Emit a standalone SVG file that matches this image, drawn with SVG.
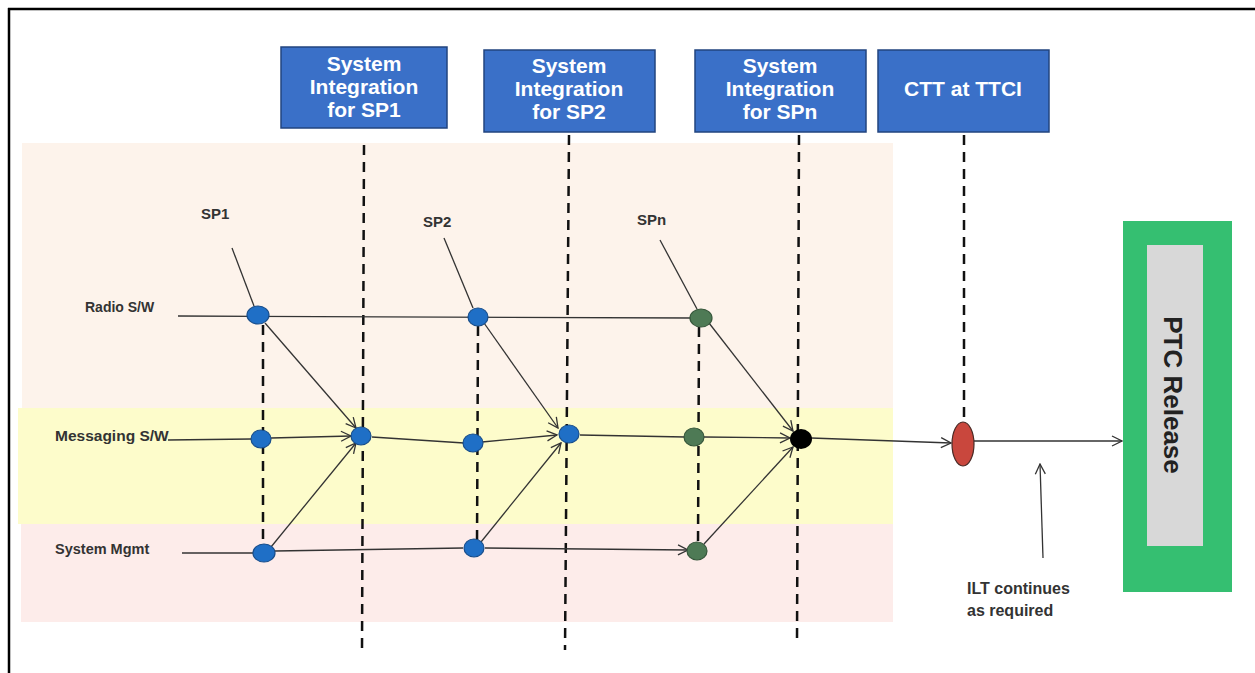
<svg xmlns="http://www.w3.org/2000/svg" width="1255" height="673" viewBox="0 0 1255 673">
<defs>
<style>
.box{fill:#3A70C8;stroke:#22447F;stroke-width:1.5}
.bt{font-family:"Liberation Sans",Arial,sans-serif;font-weight:bold;font-size:21px;fill:#fff;text-anchor:middle}
.dash{stroke:#111;stroke-width:2.5;stroke-dasharray:10 7;fill:none}
.ln{stroke:#333;stroke-width:1.3;fill:none}
.ar{stroke:#333;stroke-width:1.3;fill:none;marker-end:url(#arr)}
.lbl{font-family:"Liberation Sans",Arial,sans-serif;font-weight:bold;fill:#333}
.blue{fill:#1F6FC6;stroke:#184E8C;stroke-width:1.2}
.green{fill:#4E7A55;stroke:#36573B;stroke-width:1.2}
</style>
<marker id="arr" viewBox="0 0 12 12" refX="11" refY="6" markerWidth="12" markerHeight="12" markerUnits="userSpaceOnUse" orient="auto">
<path d="M1,1 L11,6 L1,11" fill="none" stroke="#333" stroke-width="1.3"/>
</marker>
</defs>
<rect width="1255" height="673" fill="#fff"/>
<g id="frame">
<line x1="8" y1="9" x2="1255" y2="9" stroke="#000" stroke-width="2.5"/>
<line x1="9" y1="8" x2="9" y2="673" stroke="#000" stroke-width="2.5"/>
</g>
<g id="bands">
<rect x="22" y="143" width="871" height="265" fill="#FDF3EB"/>
<rect x="18" y="408" width="875" height="116" fill="#FDFCCB"/>
<rect x="21" y="524" width="872" height="98" fill="#FDECEA"/>
</g>
<g id="box-sp1"><rect class="box" x="281" y="47" width="166" height="81"/>
<text class="bt" x="364" y="71">System</text><text class="bt" x="364" y="94">Integration</text><text class="bt" x="364" y="117">for SP1</text></g>
<g id="box-sp2"><rect class="box" x="484" y="50" width="171" height="82"/>
<text class="bt" x="569" y="73">System</text><text class="bt" x="569" y="96">Integration</text><text class="bt" x="569" y="119">for SP2</text></g>
<g id="box-spn"><rect class="box" x="695" y="50" width="171" height="82"/>
<text class="bt" x="780" y="73">System</text><text class="bt" x="780" y="96">Integration</text><text class="bt" x="780" y="119">for SPn</text></g>
<g id="box-ctt"><rect class="box" x="878" y="50" width="171" height="82"/>
<text class="bt" x="963" y="96">CTT at TTCI</text></g>
<g id="lanes">
<text class="lbl" x="85" y="312" style="font-size:14px">Radio S/W</text>
<text class="lbl" x="55" y="441" style="font-size:15.5px">Messaging  S/W</text>
<text class="lbl" x="55" y="554" style="font-size:14.5px">System Mgmt</text>
<text class="lbl" x="201" y="219" style="font-size:15px">SP1</text>
<text class="lbl" x="423" y="227" style="font-size:15px">SP2</text>
<text class="lbl" x="637" y="225" style="font-size:15px">SPn</text>
</g>
<g id="connectors">
<line class="dash" x1="364" y1="145" x2="362" y2="650"/>
<line class="dash" x1="569" y1="135" x2="565" y2="650"/>
<line class="dash" x1="799" y1="135" x2="797" y2="642"/>
<line class="dash" x1="964" y1="135" x2="964" y2="418"/>
<line class="dash" x1="263" y1="325" x2="263" y2="546"/>
<line class="dash" x1="478" y1="326" x2="477" y2="545"/>
<line class="dash" x1="699" y1="327" x2="698" y2="545"/>
<line class="ln" x1="232" y1="248" x2="254" y2="306"/>
<line class="ln" x1="444" y1="238" x2="473" y2="308"/>
<line class="ln" x1="660" y1="240" x2="697" y2="309"/>
<line class="ln" x1="178" y1="316" x2="692" y2="318"/>
<line class="ln" x1="168" y1="440" x2="251" y2="439"/>
<line class="ar" x1="271" y1="438" x2="351" y2="436"/>
<line class="ln" x1="372" y1="437" x2="464" y2="443"/>
<line class="ar" x1="482" y1="442" x2="557" y2="435"/>
<line class="ln" x1="580" y1="435" x2="685" y2="437"/>
<line class="ar" x1="704" y1="437" x2="790" y2="438"/>
<line class="ar" x1="811" y1="438" x2="951" y2="443"/>
<line class="ar" x1="974" y1="441" x2="1122" y2="441"/>
<line class="ln" x1="182" y1="553" x2="253" y2="553"/>
<line class="ln" x1="275" y1="551" x2="463" y2="548"/>
<line class="ar" x1="485" y1="548" x2="688" y2="550"/>
<line class="ar" x1="265" y1="323" x2="356" y2="428"/>
<line class="ar" x1="271" y1="547" x2="356" y2="443"/>
<line class="ar" x1="484" y1="323" x2="558" y2="428"/>
<line class="ar" x1="481" y1="542" x2="561" y2="443"/>
<line class="ar" x1="709" y1="323" x2="793" y2="431"/>
<line class="ar" x1="704" y1="544" x2="793" y2="447"/>
<line class="ar" x1="1043" y1="558" x2="1040" y2="464"/>
</g>
<g id="nodes">
<ellipse id="n-r1" class="blue" cx="258" cy="315" rx="11" ry="9"/>
<ellipse id="n-r2" class="blue" cx="478" cy="317" rx="10" ry="9"/>
<ellipse id="n-r3" class="green" cx="701" cy="318" rx="11" ry="9"/>
<ellipse id="n-m1" class="blue" cx="261" cy="439" rx="10" ry="9"/>
<ellipse id="n-m2" class="blue" cx="361" cy="436" rx="10" ry="9"/>
<ellipse id="n-m3" class="blue" cx="473" cy="443" rx="10" ry="9"/>
<ellipse id="n-m4" class="blue" cx="569" cy="434" rx="10" ry="9"/>
<ellipse id="n-m5" class="green" cx="694" cy="437" rx="10" ry="9"/>
<ellipse id="n-m6" cx="801" cy="439" rx="11" ry="10" fill="#000"/>
<ellipse id="n-ctt" cx="963" cy="444" rx="11" ry="22" fill="#C9473D" stroke="#4A2A25" stroke-width="1.2"/>
<ellipse id="n-s1" class="blue" cx="264" cy="553" rx="11" ry="9"/>
<ellipse id="n-s2" class="blue" cx="474" cy="548" rx="10" ry="9"/>
<ellipse id="n-s3" class="green" cx="697" cy="551" rx="10" ry="9"/>
</g>
<g id="ptc-release">
<rect x="1123" y="221" width="109" height="371" fill="#35BF71"/>
<rect x="1147" y="245" width="56" height="301" fill="#D8D8D8"/>
<text x="1173" y="395" transform="rotate(90 1173 395)" text-anchor="middle" dominant-baseline="central" font-family="'Liberation Sans',Arial,sans-serif" font-weight="bold" font-size="26" fill="#222">PTC Release</text>
</g>
<g id="ilt-note">
<text class="lbl" x="967" y="594" style="font-size:16px">ILT continues</text>
<text class="lbl" x="967" y="616" style="font-size:16px">as required</text>
</g>
</svg>
